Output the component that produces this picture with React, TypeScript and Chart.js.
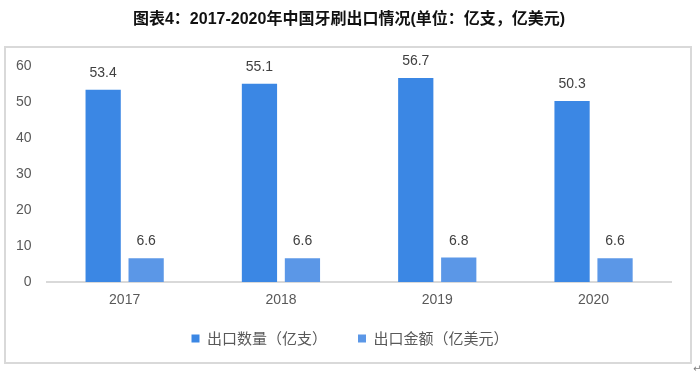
import React, { useEffect, useRef } from "react";
import { Chart, registerables } from "chart.js";

Chart.register(...registerables);

const TITLE = "图表4：2017-2020年中国牙刷出口情况(单位：亿支，亿美元)";
const CATEGORIES = ["2017", "2018", "2019", "2020"];
const SERIES_NAMES = ["出口数量（亿支）", "出口金额（亿美元）"];
const EXPORT_VOLUME = [53.4, 55.1, 56.7, 50.3];
const EXPORT_VALUE = [6.6, 6.6, 6.8, 6.6];
const Y_MIN = 0;
const Y_MAX = 60;
const Y_STEP = 10;

const LATIN_CJK = '"Liberation Sans", "Noto Sans CJK SC", sans-serif';

const framePlugin = {
  id: "frame",
  afterLayout(chart: any) {
    const lg = chart.legend;
    if (lg) {
      lg.top -= 9;
      lg.bottom -= 9;
    }
  },
  afterDraw(chart: any) {
    const ctx = chart.ctx;
    ctx.save();
    ctx.strokeStyle = "#d9d9d9";
    ctx.lineWidth = 2;
    ctx.strokeRect(5, 47, 686, 316);
    ctx.fillStyle = "#111111";
    ctx.font = `bold 16px ${LATIN_CJK}`;
    ctx.textAlign = "center";
    ctx.textBaseline = "middle";
    ctx.fillText(TITLE, 349, 20);
    ctx.fillStyle = "#808080";
    ctx.font = '10px "DejaVu Sans", sans-serif';
    ctx.textAlign = "left";
    ctx.fillText("↵", 693, 369);
    ctx.restore();
  },
};

const valueLabelPlugin = {
  id: "valueLabels",
  afterDatasetsDraw(chart: any) {
    const ctx = chart.ctx;
    ctx.save();
    ctx.fillStyle = "#404040";
    ctx.font = `14px ${LATIN_CJK}`;
    ctx.textAlign = "center";
    ctx.textBaseline = "alphabetic";
    chart.data.datasets.forEach((ds: any, i: number) => {
      const meta = chart.getDatasetMeta(i);
      meta.data.forEach((el: any, j: number) => {
        const v = ds.data[j] as number;
        ctx.fillText(v.toFixed(1), el.x, el.y - 13);
      });
    });
    ctx.restore();
  },
};

export default function App() {
  const ref = useRef<HTMLCanvasElement | null>(null);

  useEffect(() => {
    if (!ref.current) return;
    const chart = new Chart(ref.current, {
      type: "bar",
      data: {
        labels: CATEGORIES,
        datasets: [
          {
            label: SERIES_NAMES[0],
            data: EXPORT_VOLUME,
            backgroundColor: "#3b87e4",
            categoryPercentage: 0.55,
            barPercentage: 0.82,
          },
          {
            label: SERIES_NAMES[1],
            data: EXPORT_VALUE,
            backgroundColor: "#5b97e7",
            categoryPercentage: 0.55,
            barPercentage: 0.82,
          },
        ],
      },
      options: {
        responsive: false,
        animation: false,
        devicePixelRatio: 1,
        layout: { padding: { left: 14, right: 14, top: 66, bottom: 12 } },
        plugins: {
          title: { display: false },
          tooltip: { enabled: false },
          legend: {
            display: true,
            position: "bottom",
            align: "center",
            labels: {
              boxWidth: 8,
              boxHeight: 8,
              padding: 31,
              color: "#595959",
              font: { size: 15, family: '"Noto Sans CJK SC", sans-serif' },
            },
          },
        },
        scales: {
          x: {
            offset: true,
            grid: { display: false, drawTicks: false },
            border: { display: true, color: "#d9d9d9", width: 2 },
            ticks: {
              color: "#595959",
              padding: 10,
              font: { size: 14, family: LATIN_CJK },
            },
            afterFit(scale: any) {
              scale.height = 27;
            },
          },
          y: {
            min: Y_MIN,
            max: Y_MAX,
            grid: { display: false, drawTicks: false },
            border: { display: false },
            ticks: {
              stepSize: Y_STEP,
              color: "#595959",
              padding: 15,
              font: { size: 14, family: LATIN_CJK },
            },
            afterFit(scale: any) {
              scale.width = 32.5;
            },
          },
          y2: {
            position: "right",
            display: true,
            grid: { display: false, drawTicks: false },
            border: { display: false },
            ticks: { display: false },
            afterFit(scale: any) {
              scale.width = 14.3;
            },
          },
        },
      },
      plugins: [framePlugin, valueLabelPlugin],
    } as any);
    return () => chart.destroy();
  }, []);

  return (
    <div style={{ position: "fixed", left: 0, top: 0, width: 700, height: 377, background: "#ffffff" }}>
      <canvas ref={ref} width={700} height={377} style={{ width: 700, height: 377, display: "block" }} />
    </div>
  );
}
